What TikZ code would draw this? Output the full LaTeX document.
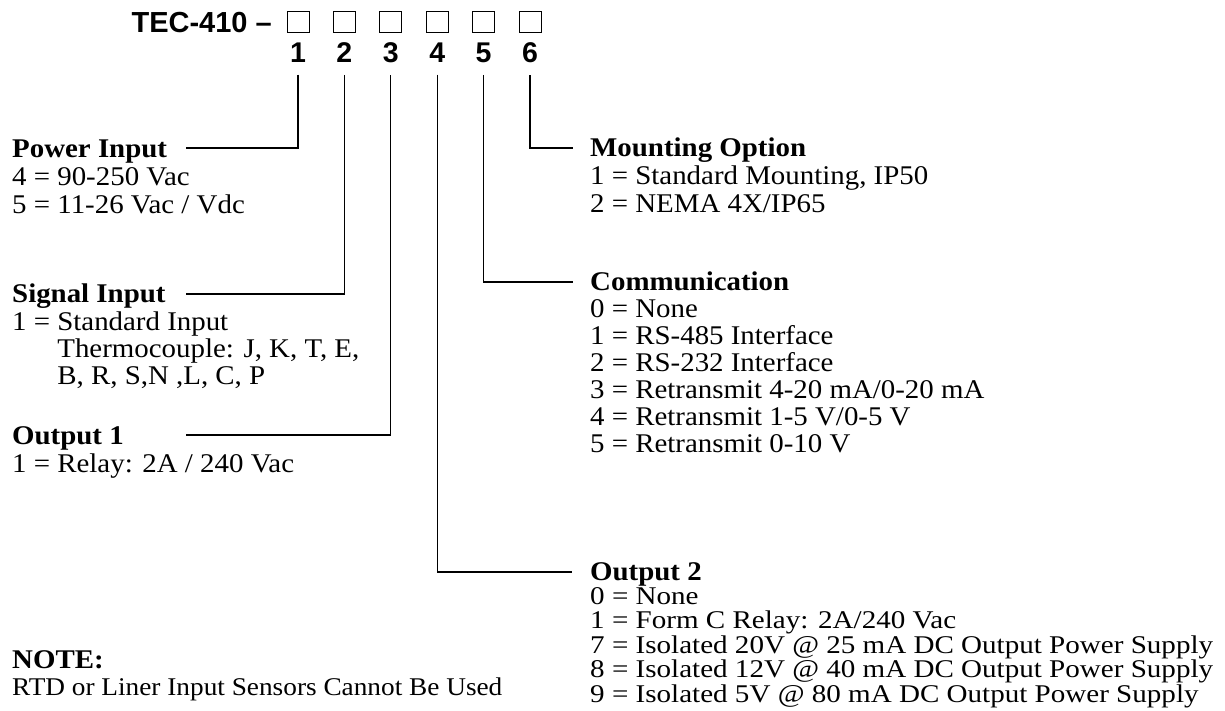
\documentclass[tikz,border=0pt]{standalone}
\usepackage{fontspec}
\setmainfont[FakeStretch=1.07]{Liberation Serif}
\newfontfamily\tightfont[FakeStretch=1.14]{Liberation Serif}
\newfontfamily\partfont{Liberation Sans}
\usepackage{tikz}
\usetikzlibrary{positioning}

\tikzset{
    lead/.style={line width=1.3pt},
    cell/.style={draw, line width=1pt, minimum width=22pt, minimum height=21pt, inner sep=0pt},
    partno/.style={font=\partfont\bfseries\fontsize{29}{29}\selectfont, inner sep=0pt},
    digit/.style={font=\partfont\bfseries\fontsize{28.5}{28.5}\selectfont, inner sep=0pt},
    head/.style={font=\bfseries\fontsize{27}{27}\selectfont, anchor=base west, inner sep=0pt},
    item/.style={font=\fontsize{27}{27}\selectfont, anchor=base west, inner sep=0pt},
    tightitem/.style={font=\tightfont\fontsize{25.5}{25.5}\selectfont, anchor=base west, inner sep=0pt}
}

\begin{document}
\begin{tikzpicture}[x=1pt, y=-1pt]
    \useasboundingbox (0, 0) rectangle (1225, 711);
    % model code with six option boxes
    \node[partno, anchor=base east] (model) at (272, 33) {TEC-410 –};
    \foreach \i in {1,...,6} {
        \node[cell] (b\i) at ({298 + 46.4*(\i - 1)}, 22.5) {};
        \node[digit, below=9pt of b\i] (d\i) {\i};
    }
    % ends of the leader lines
    \coordinate (pwrEnd) at (186, 148);
    \coordinate (sigEnd) at (186, 294);
    \coordinate (out1End) at (186, 435);
    \coordinate (out2End) at (572, 572);
    \coordinate (comEnd) at (573, 282);
    \coordinate (mntEnd) at (573, 148);
    \draw[lead] ([yshift=-12pt]d1.south) |- (pwrEnd);
    \draw[lead] ([yshift=-12pt]d2.south) |- (sigEnd);
    \draw[lead] ([yshift=-12pt]d3.south) |- (out1End);
    \draw[lead] ([yshift=-12pt]d4.south) |- (out2End);
    \draw[lead] ([yshift=-12pt]d5.south) |- (comEnd);
    \draw[lead] ([yshift=-12pt]d6.south) |- (mntEnd);
    % left column
    \node[head] (pwr) at (12, 158) {Power Input};
    \node[item] (pwr1) at (12, 186) {4 = 90-250 Vac};
    \node[item] (pwr2) at (12, 214) {5 = 11-26 Vac / Vdc};
    \node[head] (sig) at (12, 302) {Signal Input};
    \node[item] (sig1) at (12, 330) {1 = Standard Input};
    \node[item] (sig2) at (12, 357) {\hphantom{1 = }Thermocouple: J, K, T, E,};
    \node[item] (sig3) at (12, 384) {\hphantom{1 = }B, R, S,N ,L, C, P};
    \node[head] (out1) at (12, 444) {Output 1};
    \node[item] (out1a) at (12, 472) {1 = Relay: 2A / 240 Vac};
    \node[head] (note) at (12, 668) {NOTE:};
    \node[item, font=\fontsize{25.5}{25.5}\selectfont] (note1) at (12, 695) {RTD or Liner Input Sensors Cannot Be Used};
    % right column
    \node[head] (mnt) at (590, 157) {Mounting Option};
    \node[item] (mnt1) at (590, 185) {1 = Standard Mounting, IP50};
    \node[item] (mnt2) at (590, 213) {2 = NEMA 4X/IP65};
    \node[head] (com) at (590, 290) {Communication};
    \foreach \t [count=\k] in {{0 = None}, {1 = RS-485 Interface}, {2 = RS-232 Interface},
            {3 = Retransmit 4-20 mA/0-20 mA}, {4 = Retransmit 1-5 V/0-5 V}, {5 = Retransmit 0-10 V}}
        \node[item] (com\k) at (590, {290 + 27*\k}) {\t};
    \node[head] (out2) at (590, 580) {Output 2};
    \foreach \t [count=\k] in {{0 = None}, {1 = Form C Relay: 2A/240 Vac},
            {7 = Isolated 20V @ 25 mA DC Output Power Supply},
            {8 = Isolated 12V @ 40 mA DC Output Power Supply},
            {9 = Isolated 5V @ 80 mA DC Output Power Supply}}
        \node[tightitem] (out2\k) at (590, {580 + 24.4*\k}) {\t};
\end{tikzpicture}
\end{document}
